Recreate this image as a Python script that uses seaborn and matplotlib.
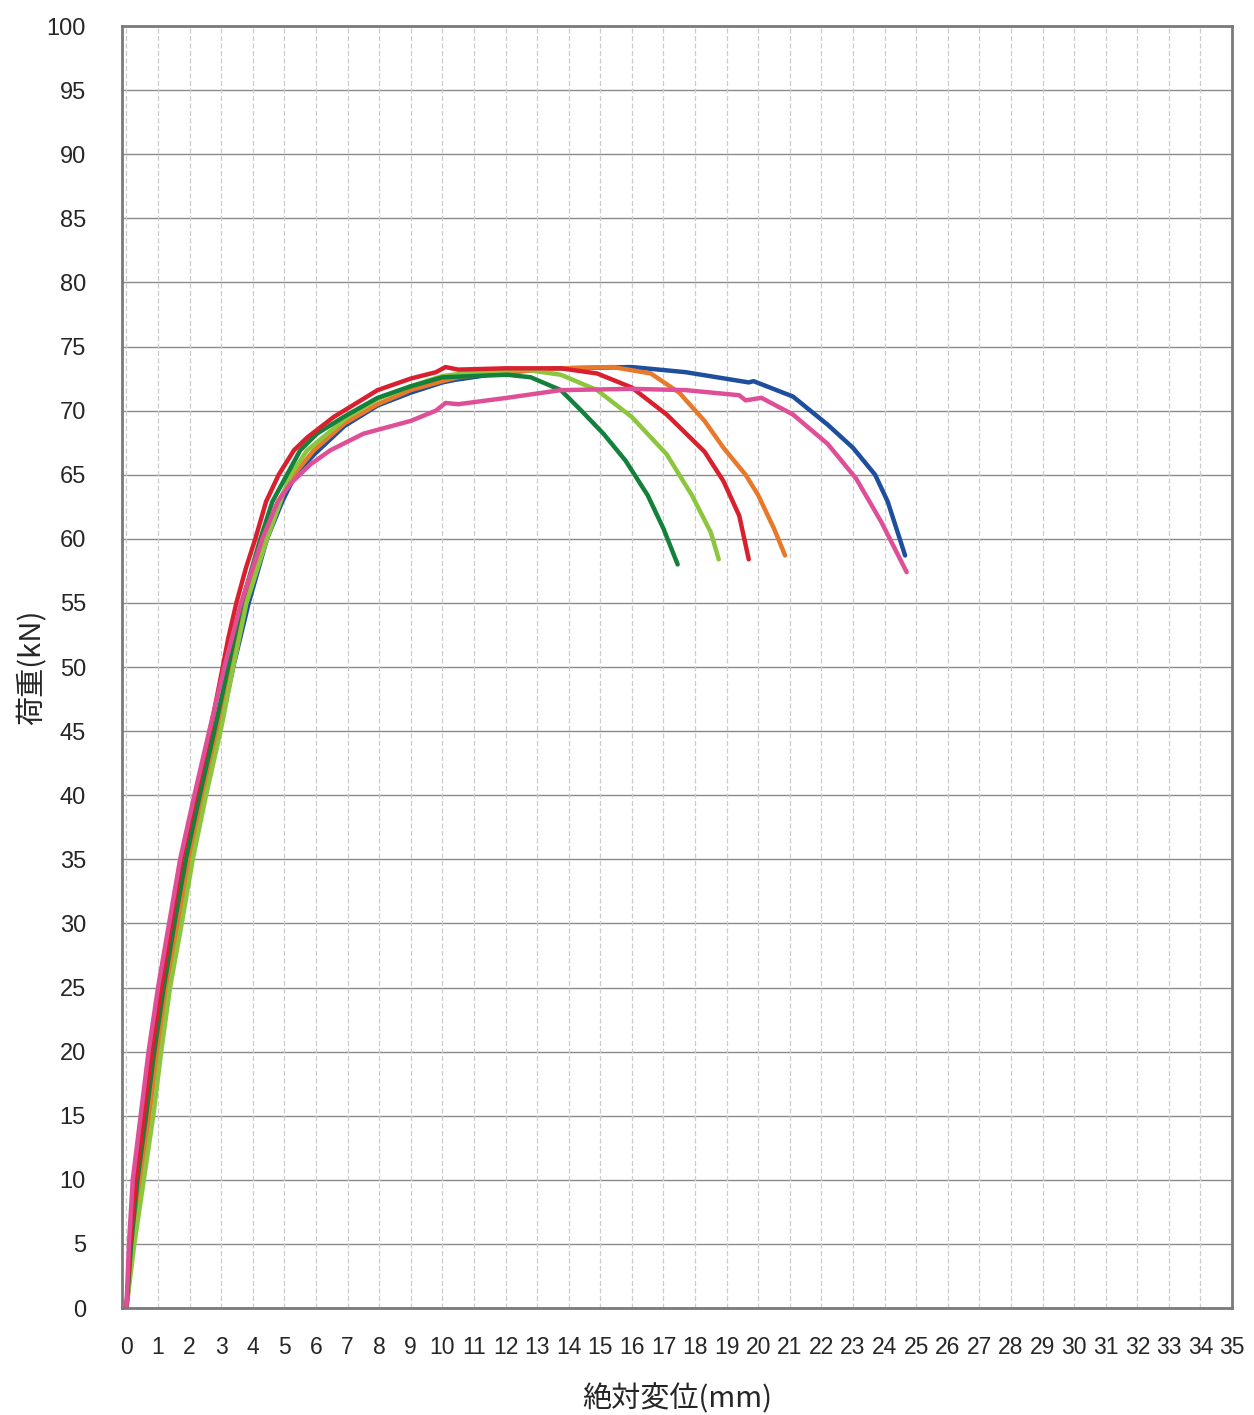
#Importing libraries
import pandas as pd
import matplotlib
matplotlib.use("Agg")
import matplotlib.pyplot as plt
import seaborn as sns
import numpy as np

#Load-displacement curves (displacement mm, load kN)
BlueDisp = [0, 0.18, 0.42, 0.7, 0.95, 1.25, 1.62, 2.0, 2.45, 2.95, 3.38, 3.87, 4.45, 4.93, 5.35, 5.95, 6.9, 7.95, 9.0, 10.0, 10.4, 12.05, 13.75, 16.0, 17.7, 19.7, 19.85, 21.1, 22.2, 23.0, 23.7, 24.1, 24.65]
BlueLoad = [0, 5, 10, 15, 20, 25, 30, 35, 40, 45, 50, 55, 60, 62.9, 65.0, 66.6, 68.8, 70.4, 71.4, 72.2, 72.4, 73.0, 73.3, 73.4, 73.0, 72.2, 72.3, 71.1, 68.9, 67.1, 65.0, 62.9, 58.7]

PinkDisp = [0, 0.08, 0.2, 0.45, 0.7, 1.0, 1.35, 1.7, 2.15, 2.62, 3.1, 3.63, 4.3, 4.79, 5.19, 5.82, 6.45, 7.5, 9.0, 9.8, 10.1, 10.5, 12.05, 13.75, 16.0, 17.7, 19.4, 19.6, 20.1, 21.1, 22.2, 23.1, 23.9, 24.7]
PinkLoad = [0, 5, 10, 15, 20, 25, 30, 35, 40, 45, 50, 55, 60, 62.9, 64.3, 65.8, 66.9, 68.2, 69.2, 70.0, 70.6, 70.5, 71.0, 71.6, 71.7, 71.6, 71.2, 70.8, 71.0, 69.7, 67.4, 64.7, 61.3, 57.4]

OrangeDisp = [0, 0.2, 0.45, 0.72, 0.98, 1.28, 1.62, 1.98, 2.4, 2.85, 3.28, 3.72, 4.35, 4.8, 5.3, 5.93, 6.9, 7.95, 9.0, 10.0, 10.5, 12.05, 13.75, 15.4, 16.6, 17.5, 18.3, 18.9, 19.6, 20.0, 20.5, 20.85]
OrangeLoad = [0, 5, 10, 15, 20, 25, 30, 35, 40, 45, 50, 55, 60, 62.9, 65.0, 66.9, 69.0, 70.5, 71.6, 72.3, 72.6, 73.0, 73.3, 73.4, 72.9, 71.4, 69.2, 67.1, 65.0, 63.4, 60.8, 58.7]

RedDisp = [0, 0.12, 0.3, 0.55, 0.8, 1.1, 1.42, 1.75, 2.2, 2.65, 3.05, 3.22, 3.48, 3.78, 4.08, 4.42, 4.82, 5.3, 5.72, 6.56, 7.95, 9.0, 9.8, 10.1, 10.5, 12.0, 13.75, 14.9, 16.0, 17.1, 18.3, 18.9, 19.4, 19.7]
RedLoad = [0, 5, 10, 15, 20, 25, 30, 35, 40, 45, 50, 52.2, 55, 57.7, 60, 62.9, 65.0, 66.9, 67.9, 69.5, 71.6, 72.5, 73.0, 73.4, 73.2, 73.3, 73.3, 72.9, 71.8, 69.7, 66.8, 64.5, 61.8, 58.4]

LightGreenDisp = [0, 0.25, 0.55, 0.85, 1.1, 1.38, 1.75, 2.1, 2.52, 2.98, 3.38, 3.8, 4.45, 5.08, 5.2, 5.72, 7.0, 7.95, 9.0, 10.0, 11.0, 12.6, 13.75, 14.9, 16.0, 17.1, 17.9, 18.5, 18.75]
LightGreenLoad = [0, 5, 10, 15, 20, 25, 30, 35, 40, 45, 50, 55, 60, 64.3, 65.0, 66.9, 69.5, 70.9, 71.9, 72.7, 73.0, 73.2, 72.8, 71.6, 69.5, 66.6, 63.4, 60.5, 58.4]

DarkGreenDisp = [0, 0.15, 0.35, 0.62, 0.88, 1.18, 1.52, 1.88, 2.32, 2.78, 3.22, 3.65, 4.24, 4.62, 5.08, 5.5, 6.03, 6.87, 7.95, 9.0, 10.0, 11.0, 12.05, 12.8, 13.75, 14.4, 15.1, 15.8, 16.5, 17.0, 17.45]
DarkGreenLoad = [0, 5, 10, 15, 20, 25, 30, 35, 40, 45, 50, 55, 60, 62.9, 65.0, 66.9, 68.2, 69.5, 71.0, 71.9, 72.6, 72.7, 72.8, 72.6, 71.6, 70.0, 68.2, 66.1, 63.4, 60.8, 58.0]

#Axis ticks and labels
XTicks = list(range(0, 36))
YTicks = list(range(0, 101, 5))
XLabel = "絶対変位(mm)"
YLabel = "荷重(kN)"

#Building one long table for seaborn
Curves = [
    ("blue", BlueDisp, BlueLoad),
    ("orange", OrangeDisp, OrangeLoad),
    ("lightgreen", LightGreenDisp, LightGreenLoad),
    ("darkgreen", DarkGreenDisp, DarkGreenLoad),
    ("red", RedDisp, RedLoad),
    ("pink", PinkDisp, PinkLoad),
]
Frames = []
for Name, Disp, Load in Curves:
    Frames.append(pd.DataFrame({"Specimen": Name, "Displacement": Disp, "Load": Load}))
DataFrame = pd.concat(Frames, ignore_index=True)

Palette = {
    "blue": "#1d4f9e",
    "orange": "#e8782a",
    "lightgreen": "#8cc63e",
    "darkgreen": "#13803c",
    "red": "#d8202f",
    "pink": "#df4f97",
}

sns.set_style("white")
plt.rcParams["font.family"] = ["Liberation Sans", "DejaVu Sans"]

fig = plt.figure(figsize=(12.54, 14.15), dpi=100)
ax = fig.add_axes([0.0973, 0.0756, 0.8852, 0.906])

sns.lineplot(data=DataFrame, x="Displacement", y="Load", hue="Specimen", palette=Palette,
             estimator=None, linewidth=3.2, legend=False, ax=ax)

ax.set_xlim(-0.14, 35)
ax.set_ylim(0, 100)
ax.set_xticks(XTicks)
ax.set_yticks(YTicks)
ax.set_xticklabels([str(t) for t in XTicks], fontsize=16.5)
ax.set_yticklabels([str(t) for t in YTicks], fontsize=17)
ax.tick_params(axis="x", length=0, pad=20)
ax.tick_params(axis="y", length=0, pad=26)

#Gridlines: solid horizontal, light dashed vertical
ax.grid(False)
for y in YTicks:
    ax.axhline(y, color="#8a8a8a", linewidth=1.0, zorder=0)
for x in XTicks:
    ax.axvline(x, color="#cccccc", linewidth=0.9, linestyle=(0, (4, 2)), zorder=0)

for Side in ["left", "right", "top", "bottom"]:
    ax.spines[Side].set_color("#7a7a7a")
    ax.spines[Side].set_linewidth(2)

ax.set_xlabel(XLabel, fontsize=21, family=["Noto Sans CJK JP", "DejaVu Sans"], labelpad=18)
ax.set_ylabel(YLabel, fontsize=21, family=["Noto Sans CJK JP", "DejaVu Sans"])
ax.yaxis.set_label_coords(-0.068, 0.5)

fig.savefig("out.png", dpi=100, facecolor="white")
